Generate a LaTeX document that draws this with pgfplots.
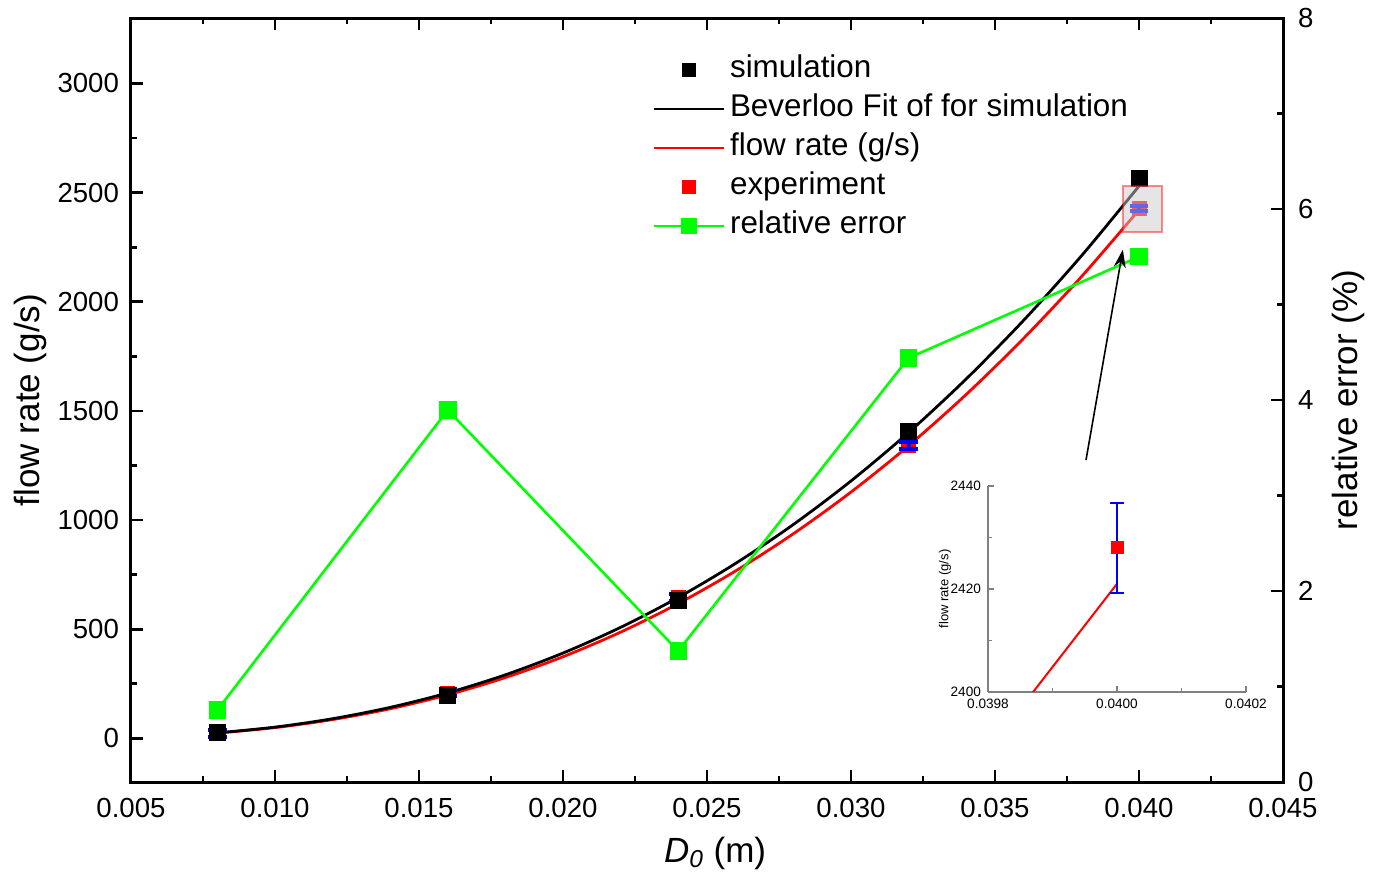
\documentclass[border=0pt]{standalone}
\usepackage{pgfplots}
\pgfplotsset{compat=1.18}
\usepackage{fontspec}
\setmainfont{Liberation Sans}
\usetikzlibrary{arrows.meta}

\pgfplotstableread{
x y
0.008 27
0.016 197
0.024 633
0.032 1404
0.040 2564
}\simdata

\pgfplotstableread{
x y e
0.008 22 16
0.016 208 16
0.024 645 16
0.032 1340 16
0.040 2428 12
}\expdata

\pgfplotstableread{
x y
0.008 0.754
0.016 3.895
0.024 1.372
0.032 4.44
0.040 5.50
}\errdata

\pgfplotstableread{
x y
0.008 25.1
0.010 51.4
0.012 89.9
0.014 141.8
0.016 208.4
0.018 291.0
0.020 390.7
0.022 508.4
0.024 645.3
0.026 802.0
0.028 979.7
0.030 1179.1
0.032 1401.0
0.034 1646.4
0.036 1915.8
0.038 2210.1
0.040 2530.1
}\fitsim

\pgfplotstableread{
x y
0.008 24.0
0.010 49.2
0.012 86.0
0.014 135.7
0.016 199.4
0.018 278.5
0.020 373.8
0.022 486.5
0.024 617.4
0.026 767.4
0.028 937.4
0.030 1128.2
0.032 1340.6
0.034 1575.3
0.036 1833.1
0.038 2114.7
0.040 2421.0
}\fitexp

\begin{document}
\begin{tikzpicture}
\pgfplotsset{
  mainax/.style={
    at={(0pt,0pt)}, anchor=south west,
    scale only axis, width=576pt, height=382pt,
    xmin=0.005, xmax=0.045,
    tick align=inside,
    major tick length=6pt, minor tick length=3pt,
    tick style={black, line width=1.4pt},
    axis line style={line width=1.5pt},
    ticklabel style={font=\fontsize{13.8}{16}\selectfont},
    label style={font=\fontsize{17.5}{20}\selectfont},
    /pgf/number format/assume math mode=true,
  },
}
\begin{axis}[
  mainax,
  clip marker paths=true,
  ymin=-200, ymax=3300,
  xtick={0.005,0.01,0.015,0.02,0.025,0.03,0.035,0.04,0.045},
  minor x tick num=1,
  ytick={0,500,1000,1500,2000,2500,3000},
  minor y tick num=1,
  xtick pos=both, ytick pos=left,
  scaled x ticks=false, scaled y ticks=false,
  xticklabel style={yshift=-4.5pt, /pgf/number format/fixed, /pgf/number format/fixed zerofill, /pgf/number format/precision=3},
  yticklabel style={xshift=-2.5pt, /pgf/number format/set thousands separator={}},
  xlabel={\textit{D}\textsubscript{\textit{0}} (m)},
  ylabel={flow rate (g/s)},
  xlabel style={at={(axis description cs:0.507,0)}, anchor=base, yshift=-40pt},
  ylabel style={at={(axis description cs:-0.0877,0.5)}, anchor=center},
  legend style={at={(0.4523,0.958)}, anchor=north west, draw=none, fill=none,
    font=\fontsize{15.7}{18}\selectfont, inner sep=0pt, row sep=0pt,
    nodes={inner sep=2.5pt, text height=11pt, text depth=3.5pt}},
  legend cell align=left,
  legend image code/.code={\draw[mark repeat=2,mark phase=2,#1] plot coordinates {(0pt,0pt) (17.5pt,0pt) (35pt,0pt)};},
]
\addlegendimage{only marks, mark=square*, black, mark size=3.3pt}
\addlegendentry{simulation}
\addlegendimage{black, line width=1.3pt}
\addlegendentry{Beverloo Fit of for simulation}
\addlegendimage{red, line width=1.3pt}
\addlegendentry{flow rate (g/s)}
\addlegendimage{only marks, mark=square*, red, mark size=3.3pt}
\addlegendentry{experiment}
\addlegendimage{green, line width=1.3pt, mark=square*, mark size=3.3pt, mark options={solid}}
\addlegendentry{relative error}

\addplot[red, line width=1.4pt, smooth, forget plot] table[x=x,y=y] {\fitexp};
\addplot[black, line width=1.4pt, smooth, forget plot] table[x=x,y=y] {\fitsim};
\addplot[only marks, mark=square*, red, mark size=3.5pt, forget plot] table[x=x,y=y] {\expdata};
\addplot[draw=none, mark=none, forget plot,
  error bars/.cd, y dir=both, y explicit,
  error bar style={draw=blue, line width=2pt, solid},
  error mark options={draw=blue, rotate=90, mark size=4.6pt, line width=2pt}]
  table[x=x, y=y, y error=e] {\expdata};
\addplot[only marks, mark=square*, black, mark size=4pt, forget plot] table[x=x,y=y] {\simdata};

\coordinate (R1) at (axis cs:0.03944,2320);
\coordinate (R2) at (axis cs:0.04081,2529);
\coordinate (A1) at (axis cs:0.03816,1275);
\coordinate (A2) at (axis cs:0.03944,2239);
\end{axis}

\begin{axis}[
  mainax,
  ymin=0, ymax=8,
  axis y line*=right, axis x line=none,
  ytick={0,2,4,6,8}, minor y tick num=1,
  ylabel={relative error (\%)},
  ylabel style={at={(axis description cs:1.0564,0.5)}, anchor=center},
  yticklabel style={xshift=4pt},
]
\addplot[green, line width=1.3pt, mark=square*, mark size=3.7pt] table[x=x,y=y] {\errdata};
\end{axis}

\fill[black!20, fill opacity=0.5] (R1) rectangle (R2);
\draw[red, draw opacity=0.45, line width=1pt] (R1) rectangle (R2);
\draw[black, line width=0.8pt, -{Stealth[length=9pt, width=6pt]}] (A1) -- (A2);

% inset
\begin{axis}[
  at={(428.5pt,45pt)}, anchor=south west,
  scale only axis, width=129pt, height=103pt,
  xmin=0.0398, xmax=0.0402, ymin=2400, ymax=2440,
  axis lines*=left,
  axis line style={gray, line width=0.6pt},
  tick style={gray, line width=0.6pt},
  major tick length=3pt, minor tick length=2pt,
  xtick={0.0398,0.04,0.0402}, minor xtick={0.0399,0.0401},
  ytick={2400,2420,2440}, minor ytick={2410,2430},
  scaled x ticks=false, scaled y ticks=false,
  ticklabel style={font=\fontsize{6.8}{8}\selectfont},
  label style={font=\fontsize{6.5}{8}\selectfont},
  /pgf/number format/assume math mode=true,
  xticklabel style={/pgf/number format/fixed, /pgf/number format/fixed zerofill, /pgf/number format/precision=4},
  yticklabel style={/pgf/number format/set thousands separator={}},
  ylabel={flow rate (g/s)},
  ylabel style={at={(axis description cs:-0.167,0.5)}, anchor=center},
  clip=true,
]
\addplot[red, line width=1pt] coordinates {(0.0398,2388.7) (0.0400,2421)};
\addplot[only marks, mark=square*, red, mark size=3pt] coordinates {(0.0400,2428)};
\addplot[draw=none, mark=none,
  error bars/.cd, y dir=both, y explicit,
  error bar style={draw=blue, line width=1pt, solid},
  error mark options={draw=blue, rotate=90, mark size=3.7pt, line width=1pt}]
  coordinates {(0.0400,2428) +- (0,8.7)};
\end{axis}

\pgfresetboundingbox
\useasboundingbox (-65.5pt,-45.5pt) rectangle (622.5pt,391pt);
\end{tikzpicture}
\end{document}
